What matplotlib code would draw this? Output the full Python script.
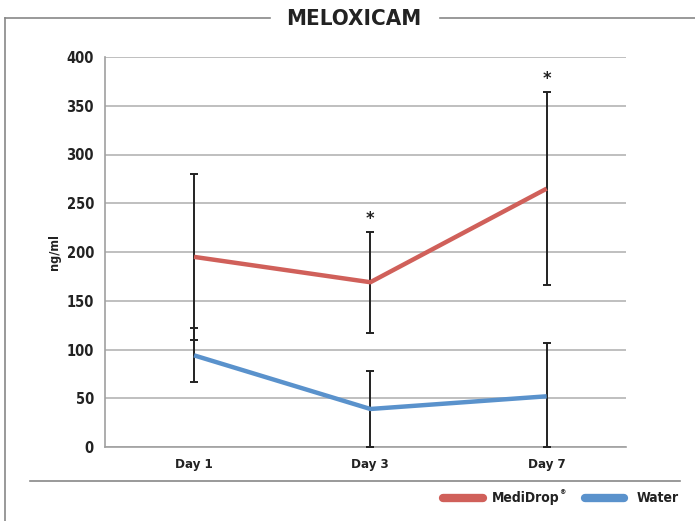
import matplotlib.pyplot as plt
from matplotlib.lines import Line2D

plt.rcParams['font.family'] = ['DejaVu Sans']
plt.rcParams['font.stretch'] = 'condensed'

days = ["Day 1", "Day 3", "Day 7"]
medidrop = [195, 169, 265]
medidrop_err = [85, 52, 99]
water = [94, 39, 52]
water_err_low = [27, 39, 52]
water_err_high = [28, 39, 55]
stars = [False, True, True]

red = "#d0605a"
blue = "#5a92cc"
dark = "#222222"

fig = plt.figure(figsize=(6.95, 5.21), dpi=100)
ax = fig.add_axes([105 / 695, 1 - 447 / 521, (626 - 105) / 695, 390 / 521])

x = range(len(days))
ax.errorbar(x, medidrop, yerr=medidrop_err, fmt="none", ecolor=dark,
            elinewidth=1.4, capsize=3, capthick=1.4, zorder=3)
ax.errorbar(x, water, yerr=[water_err_low, water_err_high], fmt="none",
            ecolor=dark, elinewidth=1.4, capsize=3, capthick=1.4, zorder=3)
ax.plot(x, medidrop, color=red, lw=3.2, solid_capstyle="butt", zorder=4)
ax.plot(x, water, color=blue, lw=3.2, solid_capstyle="butt", zorder=4)

for i, s in enumerate(stars):
    if s:
        ax.text(i, medidrop[i] + medidrop_err[i] + 4, "*", ha="center", va="bottom",
                fontsize=13, fontweight="bold", color=dark)

ax.set_xlim(-0.505, 2.45)
ax.set_ylim(0, 400)
ax.set_yticks(range(0, 401, 50))
ax.set_xticks(list(x))
ax.set_xticklabels(days, fontsize=9.5, fontweight="bold", color=dark)
for t in ax.get_yticklabels():
    t.set_fontsize(10.5)
    t.set_fontweight("bold")
    t.set_color(dark)
ax.tick_params(length=0, pad=8)
ax.yaxis.grid(True, color="#b4b4b4", lw=1.2)
ax.set_axisbelow(True)
for sp in ["top", "right"]:
    ax.spines[sp].set_visible(False)
for sp in ["left", "bottom"]:
    ax.spines[sp].set_color("#a0a0a0")
    ax.spines[sp].set_linewidth(1.2)
ax.set_ylabel("ng/ml", fontsize=9, fontweight="bold", color=dark, labelpad=4)

# frame lines
fc = "#888888"
fig.add_artist(Line2D([5 / 695, 270 / 695], [1 - 18 / 521] * 2, color=fc, lw=1.2))
fig.add_artist(Line2D([440 / 695, 1], [1 - 18 / 521] * 2, color=fc, lw=1.2))
fig.add_artist(Line2D([5 / 695] * 2, [0, 1 - 18 / 521], color=fc, lw=1.2))
fig.add_artist(Line2D([30 / 695, 680 / 695], [1 - 481 / 521] * 2, color=fc, lw=1.2))
fig.text(354 / 695, 1 - 19 / 521, "MELOXICAM", ha="center", va="center",
         fontsize=16, fontweight="bold", color=dark)

# legend
ly = 1 - 498 / 521
fig.add_artist(Line2D([443 / 695, 483 / 695], [ly, ly], color=red, lw=6, solid_capstyle="round"))
md = fig.text(492 / 695, ly, "MediDrop", ha="left", va="center", fontsize=10,
              fontweight="bold", color=dark)
fig.canvas.draw()
bb = md.get_window_extent()
fig.text((bb.x1 - 0.5) / 695, ly + 6 / 521, "®", ha="left", va="center", fontsize=5,
         fontweight="bold", color=dark)
fig.add_artist(Line2D([585 / 695, 624 / 695], [ly, ly], color=blue, lw=6, solid_capstyle="round"))
fig.text(637 / 695, ly, "Water", ha="left", va="center", fontsize=10,
         fontweight="bold", color=dark)

fig.savefig("out.png", dpi=100)
